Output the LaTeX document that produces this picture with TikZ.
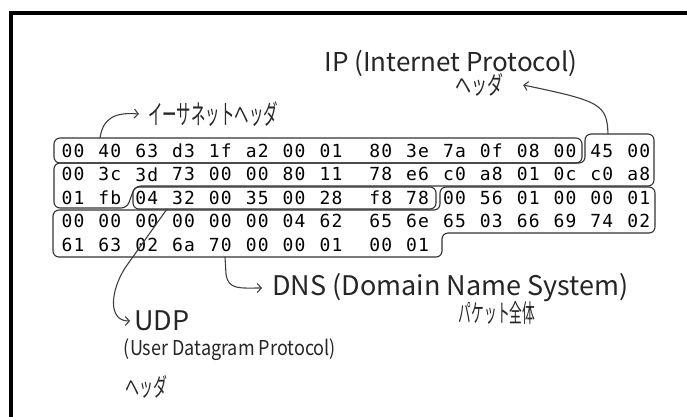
\documentclass[tikz,border=0pt]{standalone}
\usepackage{fontspec}
\usepackage{graphicx}
\usetikzlibrary{arrows.meta}
\newfontfamily\hexfont[LetterSpace=6.5]{DejaVu Sans Mono}
\newfontfamily\handfont{Noto Sans CJK JP}
\newcommand{\hw}[3]{\scalebox{#1}[1]{\fontsize{#2}{#2}\selectfont #3}}
\tikzset{
  hex/.style={inner sep=0pt, font=\hexfont\fontsize{18}{18}\selectfont, text=black},
  box/.style={draw=black!80, line width=1.1pt, rounded corners=6pt},
  lbl/.style={inner sep=0pt, font=\handfont, text=black!85},
  conn/.style={draw=black!75, line width=1.1pt, line cap=round, -{Straight Barb[length=4pt,width=9pt]}},
  frame/.style={line width=4pt, draw=black}
}
\begin{document}
\begin{tikzpicture}[x=1pt,y=-1pt]
\useasboundingbox (0,0) rectangle (687,416);
\fill[white] (0,0) rectangle (687,416);
\draw[frame] (11,420) -- (11,13) -- (692,13);

% hex bytes
\foreach \row [count=\r] in {
 {00,40,63,d3,1f,a2,00,01,80,3e,7a,0f,08,00,45,00},
 {00,3c,3d,73,00,00,80,11,78,e6,c0,a8,01,0c,c0,a8},
 {01,fb,04,32,00,35,00,28,f8,78,00,56,01,00,00,01},
 {00,00,00,00,00,00,04,62,65,6e,65,03,66,69,74,02},
 {61,63,02,6a,70,00,00,01,00,01}} {
  \foreach \b [count=\c from 0] in \row {
    \pgfmathsetmacro\bx{73+36.85*\c+13*(\c>7)}
    \pgfmathsetmacro\by{151+23.4*(\r-1)}
    \node[hex] (b\r-\c) at (\bx,\by) {\b};
  }
}

% boxes
\draw[box] (54,138) rectangle (582,163);
\draw[box] (585,134) -- (654,134) -- (654,186) -- (135,186) -- (127,208) -- (54,208) -- (54,163) -- (585,163) -- cycle;
\draw[box] (133,187) rectangle (436,209);
\draw[box] (440,187) -- (655,187) -- (655,233) -- (442,233) -- (442,257) -- (53,257) -- (53,210) -- (440,210) -- cycle;

% anchor points on boxes
\coordinate (ethtop) at (100,138);
\coordinate (iptop) at (608,134);
\coordinate (udpbot) at (167,209);
\coordinate (dnsbot) at (225,257);

% labels
\node[lbl, anchor=west] (ethl) at (148,114) {\hw{0.535}{27}{イーサネットヘッダ}};
\node[lbl] (ipt) at (451,63) {\hw{1}{26}{IP (Internet Protocol)}};
\node[lbl] (iph) at (479,85) {\hw{0.64}{25}{ヘッダ}};
\node[lbl, anchor=west] (dnsl) at (272,288) {\hw{1}{27}{DNS (Domain Name System)}};
\node[lbl] (dnsp) at (497,313) {\hw{0.51}{25}{パケット全体}};
\node[lbl, anchor=west] (udpl) at (134,321) {\hw{1}{27}{UDP}};
\node[lbl] (udpf) at (230,350) {\hw{0.88}{20.5}{(User Datagram Protocol)}};
\node[lbl] (udph) at (146,387) {\hw{0.56}{25}{ヘッダ}};

% connectors
\draw[conn] (ethtop) .. controls (103,118) and (115,112) .. ([xshift=-9pt]ethl.west);
\draw[conn] (iptop) .. controls (607,104) and (600,101) .. ([xshift=20pt]iph.east);
\draw[conn] (udpbot) -- (125,268) .. controls (110,292) and (108,321) .. ([xshift=-4pt]udpl.west);
\draw[conn] (dnsbot) -- (226,274) .. controls (228,290) and (240,288) .. ([xshift=-10pt]dnsl.west);
\end{tikzpicture}
\end{document}
